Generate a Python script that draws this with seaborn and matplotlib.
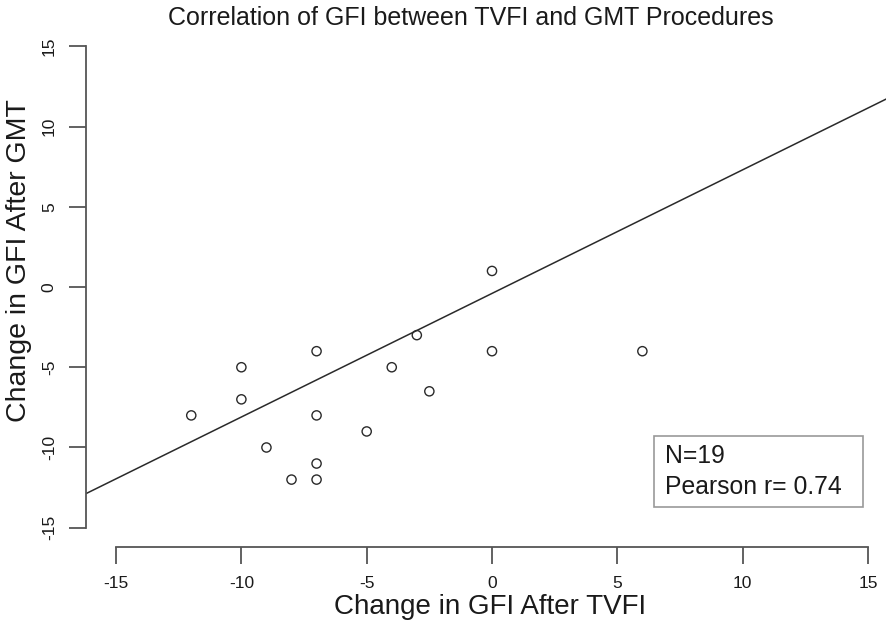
import matplotlib
matplotlib.use("Agg")
import matplotlib.pyplot as plt
import seaborn as sns
import pandas as pd
from matplotlib.patches import Rectangle

# Data
tvfi_change = [-12, -10, -10, -9, -8, -7, -7, -7, -7, -5, -4, -3, -2.5, 0, 0, 6]
gmt_change = [-8, -5, -7, -10, -12, -4, -8, -11, -12, -9, -5, -3, -6.5, 1, -4, -4]
line_intercept = -0.4
line_slope = 0.77
ticks = [-15, -10, -5, 0, 5, 10, 15]
title = "Correlation of GFI between TVFI and GMT Procedures"
xlabel = "Change in GFI After TVFI"
ylabel = "Change in GFI After GMT"
legend_lines = ["N=19", "Pearson r= 0.74"]

df = pd.DataFrame({"tvfi": tvfi_change, "gmt": gmt_change})

sns.set_theme(style="white")
plt.rcParams["font.family"] = ["Liberation Sans", "DejaVu Sans"]

W, H = 886, 631
fig = plt.figure(figsize=(W / 100, H / 100), dpi=100)
# plot region in pixels (R style, 4% expansion around -15..15)
left_px, right_px, top_px, bottom_px = 86, 898, 27, 547
ax = fig.add_axes([left_px / W, (H - bottom_px) / H,
                   (right_px - left_px) / W, (bottom_px - top_px) / H])
ax.set_xlim(-16.2, 16.2)
ax.set_ylim(-16.2, 16.2)

axis_col = "#555555"
ink = "#1a1a1a"
sns.scatterplot(data=df, x="tvfi", y="gmt", ax=ax, marker="o", s=44,
                facecolors="none", edgecolor="#2a2a2a", linewidth=1.0, zorder=3)
ax.axline((0, line_intercept), slope=line_slope, color="#2a2a2a", lw=1.1, zorder=2)

for side in ["top", "right"]:
    ax.spines[side].set_visible(False)
for side in ["left", "bottom"]:
    ax.spines[side].set_visible(True)
    ax.spines[side].set_color(axis_col)
    ax.spines[side].set_linewidth(1.3)
    ax.spines[side].set_bounds(-15, 15)

ax.set_xticks(ticks)
ax.set_yticks(ticks)
ax.set_xticklabels([str(t) for t in ticks])
ax.set_yticklabels([str(t) for t in ticks], rotation=90, va="center")
ax.tick_params(axis="both", direction="out", length=12, width=1.3, color=axis_col,
               labelsize=12.5, labelcolor=ink, bottom=True, left=True)
ax.tick_params(axis="x", pad=9)
ax.tick_params(axis="y", pad=9)
ax.set_xlabel("")
ax.set_ylabel("")
ax.grid(False)

fig.text(490 / W, 1 - 607 / H, xlabel, ha="center", va="center", fontsize=20, color=ink)
fig.text(19 / W, 1 - 261 / H, ylabel, ha="center", va="center", rotation=90,
         fontsize=20.5, color=ink)
fig.text(471 / W, 1 - 18 / H, title, ha="center", va="center", fontsize=18, color=ink)

# legend box
bx0, by0, bx1, by1 = 654, 436, 863, 507
fig.patches.append(Rectangle((bx0 / W, 1 - by1 / H), (bx1 - bx0) / W, (by1 - by0) / H,
                             transform=fig.transFigure, fill=False, edgecolor="#999999", lw=1.2))
fig.text(665 / W, 1 - 456 / H, legend_lines[0], ha="left", va="center", fontsize=17.8, color=ink)
fig.text(665 / W, 1 - 487 / H, legend_lines[1], ha="left", va="center", fontsize=17.8, color=ink)

fig.savefig("out.png", dpi=100, facecolor="white")
